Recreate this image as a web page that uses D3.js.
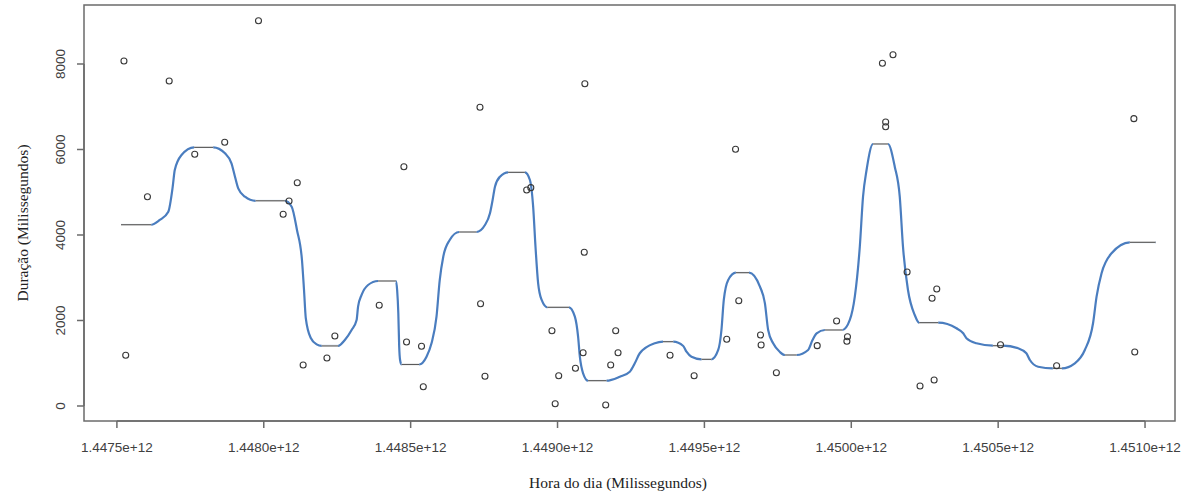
<!DOCTYPE html>
<html>
<head>
<meta charset="utf-8">
<script src="https://cdn.jsdelivr.net/npm/d3@7"></script>
<style>
  body { margin: 0; background: #fff; }
  svg { display: block; }
</style>
</head>
<body>
<script>
// observed points (hora do dia em ms, duração em ms)
var pointX = [
  1447.524, 1447.530, 1447.604, 1447.678, 1447.765, 1447.867, 1447.982, 1448.066, 1448.086, 1448.114,
  1448.134, 1448.215, 1448.242, 1448.393, 1448.477, 1448.486, 1448.537, 1448.543, 1448.736, 1448.738,
  1448.753, 1448.895, 1448.909, 1448.981, 1448.992, 1449.004, 1449.061, 1449.087, 1449.091, 1449.093,
  1449.164, 1449.181, 1449.198, 1449.206, 1449.383, 1449.465, 1449.576, 1449.606, 1449.617, 1449.691,
  1449.693, 1449.745, 1449.884, 1449.950, 1449.987, 1449.985, 1450.106, 1450.117, 1450.117, 1450.142,
  1450.190, 1450.234, 1450.275, 1450.282, 1450.291, 1450.508, 1450.699, 1450.962, 1450.965
].map(function(d) { return d * 1e9; });
var pointY = [
  8070, 1186, 4896, 7602, 5888, 6168, 9013, 4484, 4795, 5223,
  959, 1123, 1637, 2356, 5598, 1497, 1396, 451, 6987, 2393,
  695, 5053, 5107, 1761, 54, 709, 882, 1247, 3595, 7539,
  23, 959, 1761, 1247, 1186, 709, 1560, 6005, 2463, 1661,
  1427, 779, 1411, 1988, 1621, 1513, 8016, 6643, 6533, 8218,
  3135, 468, 2519, 608, 2737, 1434, 943, 6721, 1263
];

// flat pieces of the fitted step curve
var stepStart = [1447.514, 1447.763, 1447.972, 1448.197, 1448.389, 1448.469, 1448.665, 1448.832, 1448.965, 1449.104,
                 1449.359, 1449.490, 1449.607, 1449.774, 1449.910, 1450.074, 1450.231, 1450.482, 1450.686, 1450.948]
  .map(function(d) { return d * 1e9; });
var stepEnd = [1447.617, 1447.828, 1448.072, 1448.253, 1448.450, 1448.529, 1448.724, 1448.889, 1449.039, 1449.167,
               1449.394, 1449.524, 1449.652, 1449.814, 1449.970, 1450.125, 1450.296, 1450.516, 1450.717, 1451.036]
  .map(function(d) { return d * 1e9; });
var stepLevel = [4240, 6050, 4800, 1405, 2924, 971, 4070, 5466, 2309, 592,
                 1504, 1092, 3118, 1193, 1778, 6129, 1949, 1410, 882, 3829];

// smooth transitions between the flat pieces
var curveX = [
  1447.646, 1447.675, 1447.690, 1447.697, 1447.720,
  1447.868, 1447.890, 1447.902, 1447.913, 1447.936,
  1448.095, 1448.113, 1448.130, 1448.137, 1448.143, 1448.160, 1448.180,
  1448.276, 1448.299, 1448.316, 1448.321, 1448.333, 1448.355,
  1448.454, 1448.458, 1448.461, 1448.464,
  1448.554, 1448.571, 1448.588, 1448.599, 1448.611, 1448.633,
  1448.753, 1448.770, 1448.779, 1448.787, 1448.804,
  1448.906, 1448.917, 1448.925, 1448.934, 1448.946,
  1449.059, 1449.070, 1449.076, 1449.087,
  1449.212, 1449.246, 1449.263, 1449.280, 1449.331,
  1449.428, 1449.439, 1449.456,
  1449.547, 1449.558, 1449.566, 1449.581,
  1449.689, 1449.706, 1449.717, 1449.734, 1449.757,
  1449.853, 1449.868, 1449.882,
  1449.995, 1450.012, 1450.029, 1450.040, 1450.052,
  1450.148, 1450.165, 1450.176, 1450.193, 1450.216,
  1450.358, 1450.381, 1450.392, 1450.426,
  1450.568, 1450.596, 1450.608, 1450.636,
  1450.761, 1450.795, 1450.823, 1450.835, 1450.852, 1450.886
].map(function(d) { return d * 1e9; });
var curveY = [
  4351, 4545, 5130, 5520, 5871,
  5911, 5677, 5364, 5092, 4896,
  4662, 4117, 3415, 2713, 2058, 1591, 1443,
  1544, 1778, 2012, 2323, 2597, 2830,
  2713, 2168, 1387, 1076,
  1153, 1467, 2089, 2947, 3492, 3883,
  4234, 4507, 4819, 5130, 5364,
  5287, 4662, 3726, 2870, 2480,
  2089, 1621, 1153, 765,
  685, 802, 999, 1233, 1467,
  1404, 1270, 1153,
  1310, 1778, 2480, 2947,
  2791, 2402, 1778, 1467, 1263,
  1310, 1544, 1701,
  2012, 2557, 3726, 4896, 5520,
  5598, 4896, 3726, 2713, 2129,
  1818, 1701, 1584, 1467,
  1350, 1233, 1076, 919,
  999, 1310, 1935, 2557, 3104, 3572
];

var xTicks = [1.4475e12, 1.4480e12, 1.4485e12, 1.4490e12, 1.4495e12, 1.4500e12, 1.4505e12, 1.4510e12];
var xTickLabels = ["1.4475e+12", "1.4480e+12", "1.4485e+12", "1.4490e+12", "1.4495e+12", "1.4500e+12", "1.4505e+12", "1.4510e+12"];
var yTicks = [0, 2000, 4000, 6000, 8000];

var width = 1190, height = 495;
var box = {left: 84, right: 1175, top: 5, bottom: 421};

var x = d3.scaleLinear()
    .domain([1.447388e12, 1.451102e12])
    .range([box.left, box.right]);
var y = d3.scaleLinear()
    .domain([-351, 9380])
    .range([box.bottom, box.top]);

var svg = d3.select("body").append("svg")
    .attr("width", width)
    .attr("height", height);

// blue smooth curve: flat piece ends + transition points, sorted by time
var curvePts = [];
stepStart.forEach(function(s, i) {
  curvePts.push([s, stepLevel[i]]);
  curvePts.push([stepEnd[i], stepLevel[i]]);
});
curveX.forEach(function(cx, i) { curvePts.push([cx, curveY[i]]); });
curvePts.sort(function(a, b) { return a[0] - b[0]; });

var line = d3.line()
    .x(function(d) { return x(d[0]); })
    .y(function(d) { return y(d[1]); })
    .curve(d3.curveMonotoneX);

svg.append("path")
    .datum(curvePts)
    .attr("fill", "none")
    .attr("stroke", "#4a7dbf")
    .attr("stroke-width", 2.2)
    .attr("d", line);

// flat pieces drawn over the curve in grey
var steps = stepStart.map(function(s, i) { return {s: s, e: stepEnd[i], v: stepLevel[i]}; });
svg.selectAll(".step-bg")
    .data(steps)
    .enter().append("line")
    .attr("x1", function(d) { return x(d.s); })
    .attr("x2", function(d) { return x(d.e); })
    .attr("y1", function(d) { return y(d.v); })
    .attr("y2", function(d) { return y(d.v); })
    .attr("stroke", "#fff")
    .attr("stroke-width", 3.2);
svg.selectAll(".step")
    .data(steps)
    .enter().append("line")
    .attr("x1", function(d) { return x(d.s); })
    .attr("x2", function(d) { return x(d.e); })
    .attr("y1", function(d) { return y(d.v); })
    .attr("y2", function(d) { return y(d.v); })
    .attr("stroke", "#5a5a5a")
    .attr("stroke-width", 1.2);

// points
svg.selectAll(".pt")
    .data(pointX.map(function(px, i) { return [px, pointY[i]]; }))
    .enter().append("circle")
    .attr("cx", function(d) { return x(d[0]); })
    .attr("cy", function(d) { return y(d[1]); })
    .attr("r", 3)
    .attr("fill", "none")
    .attr("stroke", "#383838")
    .attr("stroke-width", 1.1);

// box
svg.append("rect")
    .attr("x", box.left)
    .attr("y", box.top)
    .attr("width", box.right - box.left)
    .attr("height", box.bottom - box.top)
    .attr("fill", "none")
    .attr("stroke", "#6b6b6b")
    .attr("stroke-width", 1.5);

// x axis
var gx = svg.append("g").attr("transform", "translate(0," + box.bottom + ")");
gx.append("line")
    .attr("x1", x(xTicks[0])).attr("x2", x(xTicks[xTicks.length - 1]))
    .attr("stroke", "#6b6b6b").attr("stroke-width", 1.5);
gx.selectAll(".tk").data(xTicks).enter().append("line")
    .attr("x1", function(d) { return x(d); })
    .attr("x2", function(d) { return x(d); })
    .attr("y1", 0).attr("y2", 7)
    .attr("stroke", "#6b6b6b").attr("stroke-width", 1.5);
gx.selectAll(".lb").data(xTicks).enter().append("text")
    .attr("x", function(d) { return x(d); })
    .attr("y", 31)
    .attr("text-anchor", "middle")
    .attr("font-family", "Liberation Sans, Arial, sans-serif")
    .attr("font-size", "13.5px")
    .attr("fill", "#404040")
    .text(function(d, i) { return xTickLabels[i]; });

// y axis
var gy = svg.append("g").attr("transform", "translate(" + box.left + ",0)");
gy.append("line")
    .attr("y1", y(yTicks[0])).attr("y2", y(yTicks[yTicks.length - 1]))
    .attr("stroke", "#6b6b6b").attr("stroke-width", 1.5);
gy.selectAll(".tk").data(yTicks).enter().append("line")
    .attr("y1", function(d) { return y(d); })
    .attr("y2", function(d) { return y(d); })
    .attr("x1", 0).attr("x2", -7)
    .attr("stroke", "#6b6b6b").attr("stroke-width", 1.5);
gy.selectAll(".lb").data(yTicks).enter().append("text")
    .attr("transform", function(d) { return "translate(-19," + y(d) + ") rotate(-90)"; })
    .attr("text-anchor", "middle")
    .attr("font-family", "Liberation Sans, Arial, sans-serif")
    .attr("font-size", "13.5px")
    .attr("fill", "#404040")
    .text(function(d) { return d; });

// axis titles
svg.append("text")
    .attr("x", 618)
    .attr("y", 488)
    .attr("text-anchor", "middle")
    .attr("font-family", "Liberation Serif, Times New Roman, serif")
    .attr("font-size", "15.5px")
    .attr("fill", "#222")
    .text("Hora do dia (Milissegundos)");
svg.append("text")
    .attr("transform", "translate(28,223) rotate(-90)")
    .attr("text-anchor", "middle")
    .attr("font-family", "Liberation Serif, Times New Roman, serif")
    .attr("font-size", "15.5px")
    .attr("fill", "#222")
    .text("Duração (Milissegundos)");
</script>
</body>
</html>
